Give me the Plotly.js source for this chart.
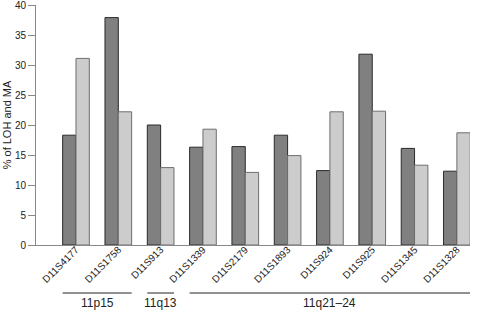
<!DOCTYPE html>
<html>
<head>
<meta charset="utf-8">
<script src="https://cdn.plot.ly/plotly-3.0.1.min.js"></script>
<style>html,body{margin:0;padding:0;background:#fff;}#chart{width:480px;height:311px;}</style>
</head>
<body>
<div id="chart"></div>
<script>
var markers = ["D11S4177","D11S1758","D11S913","D11S1339","D11S2179","D11S1893","D11S924","D11S925","D11S1345","D11S1328"];
var darkValues = [18.3, 37.9, 20.0, 16.3, 16.4, 18.3, 12.4, 31.8, 16.1, 12.3];
var lightValues = [31.1, 22.2, 12.9, 19.3, 12.1, 14.9, 22.2, 22.3, 13.3, 18.7];
var regionLabels = ["11p15", "11q13", "11q21\u201324"];
var regionFirst = [0, 2, 3];
var regionLast = [1, 2, 9];
var yTicks = [0, 5, 10, 15, 20, 25, 30, 35, 40];

var idx = markers.map(function(_, i){ return i; });
var traces = [
  {type:'bar', x: idx, y: darkValues, name:'LOH',
   marker:{color:'#808080', line:{color:'#2a2a2a', width:1}}},
  {type:'bar', x: idx, y: lightValues, name:'MA',
   marker:{color:'#cccccc', line:{color:'#6e6e6e', width:1}}}
];

var half = 0.315;
var shapes = [], annotations = [];
regionLabels.forEach(function(lab, k){
  var x0 = regionFirst[k] - half, x1 = regionLast[k] + half;
  shapes.push({type:'line', xref:'x', yref:'paper', x0:x0, x1:x1, y0:-0.2, y1:-0.2,
    line:{color:'#222', width:1}});
  annotations.push({xref:'x', yref:'paper', x:(x0+x1)/2, y:-0.243, text:lab, showarrow:false,
    font:{size:12, color:'#222', family:'Liberation Sans, Arial, sans-serif'}, yanchor:'middle'});
});

var layout = {
  width:480, height:311,
  margin:{l:36, r:10, t:5, b:66},
  paper_bgcolor:'#fff', plot_bgcolor:'#fff',
  showlegend:false,
  barmode:'group', bargap:0.37, bargroupgap:0,
  font:{family:'Liberation Sans, Arial, sans-serif', size:10, color:'#222'},
  xaxis:{type:'linear', range:[-0.945, 9.31], tickvals: idx, ticktext: markers, tickangle:-45,
    showgrid:false, zeroline:false, showline:true, linecolor:'#888', linewidth:1,
    ticks:'', tickfont:{size:10, color:'#222'}, automargin:false, ticklabelstandoff:-6},
  yaxis:{range:[0,40], tickvals:yTicks, showgrid:false, zeroline:false,
    showline:true, linecolor:'#888', linewidth:1, ticks:'outside', ticklen:7, tickcolor:'#888',
    tickfont:{size:10, color:'#222'}, automargin:false, ticklabeloverflow:'allow',
    title:{text:'% of LOH and MA', font:{size:11, color:'#222'}, standoff:1}},
  shapes: shapes,
  annotations: annotations
};
Plotly.newPlot('chart', traces, layout, {displayModeBar:false, staticPlot:true});
</script>
</body>
</html>
